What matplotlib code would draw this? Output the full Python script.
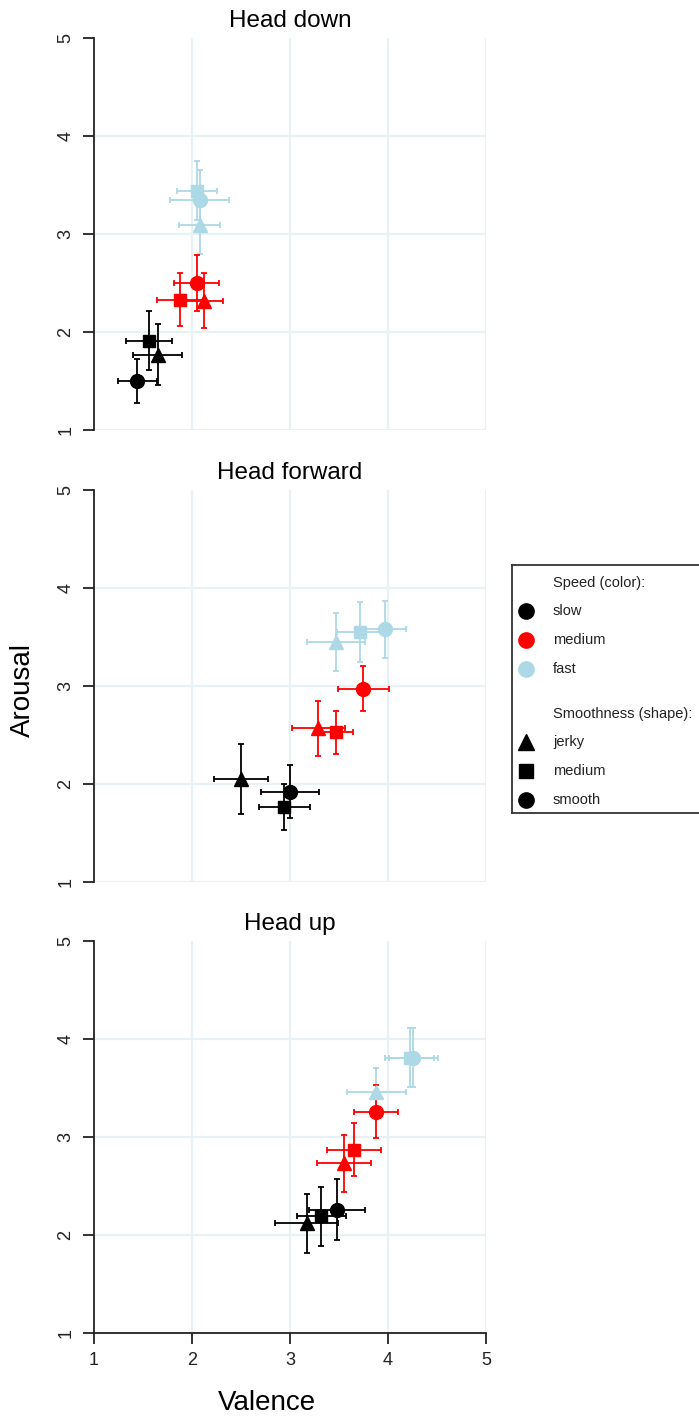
import matplotlib
matplotlib.use("Agg")
import matplotlib.pyplot as plt

plt.rcParams["font.family"] = ["Liberation Sans", "DejaVu Sans"]

# Conditions
panel_titles = ["Head down", "Head forward", "Head up"]
speed_levels = ["slow", "medium", "fast"]
smooth_levels = ["jerky", "medium", "smooth"]
speed_colors = ["black", "red", "lightblue"]
smooth_markers = ["^", "s", "o"]
marker_sizes = [10, 8.5, 10]

# Mean valence per panel, rows = speed (slow, medium, fast), cols = smoothness (jerky, medium, smooth)
valence_head_down = [[1.65, 1.56, 1.44], [2.12, 1.88, 2.05], [2.08, 2.05, 2.08]]
valence_head_forward = [[2.50, 2.94, 3.00], [3.29, 3.47, 3.75], [3.47, 3.71, 3.97]]
valence_head_up = [[3.17, 3.32, 3.48], [3.55, 3.65, 3.88], [3.88, 4.22, 4.26]]

# Mean arousal
arousal_head_down = [[1.77, 1.91, 1.50], [2.32, 2.33, 2.50], [3.09, 3.44, 3.35]]
arousal_head_forward = [[2.05, 1.77, 1.92], [2.57, 2.53, 2.97], [3.45, 3.55, 3.58]]
arousal_head_up = [[2.12, 2.19, 2.26], [2.73, 2.87, 3.26], [3.46, 3.81, 3.81]]

# Error half-widths (valence)
valence_err_head_down = [[0.25, 0.235, 0.20], [0.20, 0.24, 0.23], [0.21, 0.20, 0.30]]
valence_err_head_forward = [[0.28, 0.26, 0.30], [0.27, 0.17, 0.26], [0.30, 0.23, 0.21]]
valence_err_head_up = [[0.32, 0.25, 0.29], [0.275, 0.275, 0.225], [0.30, 0.25, 0.25]]

# Error half-widths (arousal)
arousal_err_head_down = [[0.31, 0.30, 0.22], [0.28, 0.27, 0.29], [0.29, 0.30, 0.30]]
arousal_err_head_forward = [[0.36, 0.235, 0.27], [0.28, 0.22, 0.23], [0.30, 0.31, 0.29]]
arousal_err_head_up = [[0.30, 0.30, 0.31], [0.29, 0.27, 0.27], [0.24, 0.30, 0.30]]

ticks = [1, 2, 3, 4, 5]

valence_all = [valence_head_down, valence_head_forward, valence_head_up]
arousal_all = [arousal_head_down, arousal_head_forward, arousal_head_up]
valence_err_all = [valence_err_head_down, valence_err_head_forward, valence_err_head_up]
arousal_err_all = [arousal_err_head_down, arousal_err_head_forward, arousal_err_head_up]

W, H = 699, 1418
fig = plt.figure(figsize=(W / 100, H / 100), dpi=100)

grid_color = "#e8f2f4"
axis_color = "#222222"
tick_fs = 13

panel_tops = [38, 490, 941]
for p, title in enumerate(panel_titles):
    top = panel_tops[p]
    ax = fig.add_axes([94 / W, 1 - (top + 392) / H, 392 / W, 392 / H])
    ax.set_xlim(1, 5)
    ax.set_ylim(1, 5)
    for v in ticks[:-1]:
        ax.axhline(v, color=grid_color, lw=1.6, zorder=0)
    for v in ticks[1:]:
        ax.axvline(v, color=grid_color, lw=1.6, zorder=0)

    # fast drawn first so slower series sit on top
    for s in reversed(range(3)):
        for m in range(3):
            ax.errorbar(valence_all[p][s][m], arousal_all[p][s][m],
                        xerr=valence_err_all[p][s][m], yerr=arousal_err_all[p][s][m],
                        fmt=smooth_markers[m], color=speed_colors[s],
                        ms=marker_sizes[m], mec=speed_colors[s],
                        elinewidth=1.3, capsize=2.5, capthick=1.3, zorder=3)

    ax.spines["top"].set_visible(False)
    ax.spines["right"].set_visible(False)
    ax.spines["left"].set_color(axis_color)
    ax.spines["left"].set_linewidth(1.3)
    ax.set_yticks(ticks)
    ax.set_yticklabels([str(t) for t in ticks], rotation=90, va="center",
                       fontsize=tick_fs)
    ax.tick_params(axis="y", length=8, width=1.3, color=axis_color, pad=6,
                   labelcolor="#222222")
    if p == 2:
        ax.spines["bottom"].set_color(axis_color)
        ax.spines["bottom"].set_linewidth(1.3)
        ax.set_xticks(ticks)
        ax.set_xticklabels([str(t) for t in ticks], fontsize=tick_fs)
        ax.tick_params(axis="x", length=8, width=1.3, color=axis_color, pad=6,
                       labelcolor="#222222")
    else:
        ax.spines["bottom"].set_visible(False)
        ax.set_xticks([])
    ax.set_title(title, fontsize=17.5, pad=8)

fig.text(23 / W, 1 - 690 / H, "Arousal", rotation=90, fontsize=20,
         ha="center", va="center")
fig.text(267 / W, 1 - 1403 / H, "Valence", fontsize=20, ha="center", va="center")

# Legend panel
leg = fig.add_axes([512 / W, 1 - 813 / H, 200 / W, 248 / H])
leg.set_xlim(0, 200)
leg.set_ylim(248, 0)
leg.set_xticks([])
leg.set_yticks([])
for side in ["left", "top", "bottom", "right"]:
    leg.spines[side].set_color("#333333")
    leg.spines[side].set_linewidth(1.3)

marker_x, text_x = 14, 41
leg.text(text_x, 18, "Speed (color):", fontsize=10.5, va="center", color="#222222")
for i, lab in enumerate(speed_levels):
    y = 46 + 29 * i
    leg.plot(marker_x, y, "o", color=speed_colors[i], ms=11)
    leg.text(text_x, y, lab, fontsize=10.5, va="center", color="#222222")
leg.text(text_x, 149, "Smoothness (shape):", fontsize=10.5, va="center", color="#222222")
for i, lab in enumerate(smooth_levels):
    y = 177 + 29 * i
    leg.plot(marker_x, y, smooth_markers[i], color="black", ms=marker_sizes[i] + 1)
    leg.text(text_x, y, lab, fontsize=10.5, va="center", color="#222222")

fig.savefig("out.png", dpi=100)
